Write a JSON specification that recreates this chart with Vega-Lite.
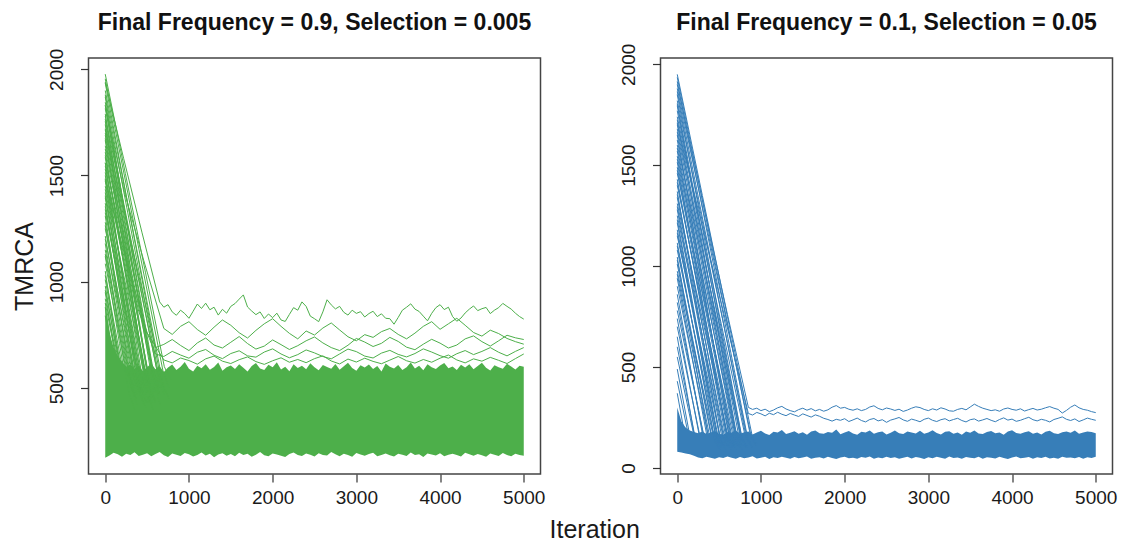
{
"$schema":"https://vega.github.io/schema/vega-lite/v6.json",
"background":"white",
"padding":{"left":11.5,"top":11,"right":5,"bottom":5},
"spacing":72,
"title":{"text":"Iteration","orient":"bottom","anchor":"middle","font":"Liberation Sans","fontSize":25,"fontWeight":"normal","color":"#1a1a1a","offset":10,"dx":30},
"config":{
 "view":{"stroke":"#444444","strokeWidth":1.5},
 "axis":{"domain":false,"grid":false,"tickSize":8,"tickColor":"#333333","tickWidth":1.2,"labelFont":"Liberation Sans","labelFontSize":19,"labelColor":"#1a1a1a","labelFlush":false,"labelOverlap":false,"titleFont":"Liberation Sans","titleFontSize":25,"titleFontWeight":"normal","titleColor":"#1a1a1a"},
 "axisX":{"labelPadding":6},
 "axisY":{"labelAngle":-90,"labelAlign":"center","labelBaseline":"bottom","labelPadding":14,"titlePadding":10}
},
"datasets":{
"bandL":[
{"x":0,"lo":172,"hi":900},{"x":50,"lo":182,"hi":760},{"x":100,"lo":195,"hi":690},{"x":150,"lo":188,"hi":650},{"x":200,"lo":176,"hi":625},{"x":250,"lo":190,"hi":600},{"x":300,"lo":184,"hi":612},{"x":350,"lo":197,"hi":590},{"x":400,"lo":180,"hi":605},{"x":450,"lo":186,"hi":580},
{"x":500,"lo":193,"hi":598},{"x":550,"lo":178,"hi":615},{"x":600,"lo":189,"hi":588},{"x":650,"lo":199,"hi":602},{"x":700,"lo":183,"hi":575},{"x":750,"lo":175,"hi":596},{"x":800,"lo":191,"hi":610},{"x":850,"lo":186,"hi":585},{"x":900,"lo":180,"hi":600},{"x":950,"lo":194,"hi":622},
{"x":1000,"lo":188,"hi":590},{"x":1050,"lo":177,"hi":578},{"x":1100,"lo":185,"hi":604},{"x":1150,"lo":196,"hi":593},{"x":1200,"lo":182,"hi":611},{"x":1250,"lo":190,"hi":586},{"x":1300,"lo":174,"hi":599},{"x":1350,"lo":187,"hi":620},{"x":1400,"lo":193,"hi":581},{"x":1450,"lo":181,"hi":597},
{"x":1500,"lo":189,"hi":606},{"x":1550,"lo":178,"hi":589},{"x":1600,"lo":195,"hi":612},{"x":1650,"lo":184,"hi":595},{"x":1700,"lo":190,"hi":578},{"x":1750,"lo":176,"hi":603},{"x":1800,"lo":186,"hi":617},{"x":1850,"lo":198,"hi":592},{"x":1900,"lo":183,"hi":584},{"x":1950,"lo":179,"hi":609},
{"x":2000,"lo":192,"hi":598},{"x":2050,"lo":187,"hi":621},{"x":2100,"lo":181,"hi":587},{"x":2150,"lo":175,"hi":600},{"x":2200,"lo":189,"hi":579},{"x":2250,"lo":196,"hi":611},{"x":2300,"lo":184,"hi":594},{"x":2350,"lo":180,"hi":605},{"x":2400,"lo":191,"hi":588},{"x":2450,"lo":186,"hi":616},
{"x":2500,"lo":177,"hi":597},{"x":2550,"lo":193,"hi":583},{"x":2600,"lo":185,"hi":608},{"x":2650,"lo":182,"hi":599},{"x":2700,"lo":198,"hi":590},{"x":2750,"lo":188,"hi":613},{"x":2800,"lo":179,"hi":586},{"x":2850,"lo":190,"hi":602},{"x":2900,"lo":184,"hi":619},{"x":2950,"lo":176,"hi":594},
{"x":3000,"lo":194,"hi":581},{"x":3050,"lo":187,"hi":607},{"x":3100,"lo":181,"hi":596},{"x":3150,"lo":189,"hi":610},{"x":3200,"lo":195,"hi":589},{"x":3250,"lo":178,"hi":603},{"x":3300,"lo":185,"hi":578},{"x":3350,"lo":192,"hi":615},{"x":3400,"lo":183,"hi":600},{"x":3450,"lo":177,"hi":592},
{"x":3500,"lo":190,"hi":608},{"x":3550,"lo":186,"hi":585},{"x":3600,"lo":180,"hi":597},{"x":3650,"lo":196,"hi":620},{"x":3700,"lo":184,"hi":591},{"x":3750,"lo":188,"hi":604},{"x":3800,"lo":175,"hi":583},{"x":3850,"lo":191,"hi":611},{"x":3900,"lo":187,"hi":598},{"x":3950,"lo":182,"hi":589},
{"x":4000,"lo":193,"hi":606},{"x":4050,"lo":179,"hi":617},{"x":4100,"lo":186,"hi":593},{"x":4150,"lo":190,"hi":601},{"x":4200,"lo":184,"hi":584},{"x":4250,"lo":177,"hi":609},{"x":4300,"lo":195,"hi":596},{"x":4350,"lo":188,"hi":612},{"x":4400,"lo":181,"hi":588},{"x":4450,"lo":189,"hi":603},
{"x":4500,"lo":183,"hi":619},{"x":4550,"lo":176,"hi":595},{"x":4600,"lo":192,"hi":582},{"x":4650,"lo":186,"hi":607},{"x":4700,"lo":180,"hi":598},{"x":4750,"lo":194,"hi":590},{"x":4800,"lo":185,"hi":614},{"x":4850,"lo":178,"hi":601},{"x":4900,"lo":190,"hi":587},{"x":4950,"lo":184,"hi":605},
{"x":5000,"lo":181,"hi":600}
],
"bandR":[
{"x":0,"lo":80,"hi":300},{"x":50,"lo":76,"hi":230},{"x":100,"lo":72,"hi":200},{"x":150,"lo":68,"hi":185},{"x":200,"lo":60,"hi":178},{"x":250,"lo":52,"hi":172},{"x":300,"lo":48,"hi":180},{"x":350,"lo":55,"hi":168},{"x":400,"lo":50,"hi":176},{"x":450,"lo":46,"hi":183},
{"x":500,"lo":53,"hi":170},{"x":550,"lo":49,"hi":165},{"x":600,"lo":57,"hi":178},{"x":650,"lo":51,"hi":174},{"x":700,"lo":45,"hi":186},{"x":750,"lo":54,"hi":169},{"x":800,"lo":48,"hi":177},{"x":850,"lo":52,"hi":181},{"x":900,"lo":58,"hi":166},{"x":950,"lo":47,"hi":175},
{"x":1000,"lo":50,"hi":184},{"x":1050,"lo":55,"hi":171},{"x":1100,"lo":44,"hi":163},{"x":1150,"lo":53,"hi":179},{"x":1200,"lo":49,"hi":176},{"x":1250,"lo":56,"hi":188},{"x":1300,"lo":51,"hi":168},{"x":1350,"lo":46,"hi":174},{"x":1400,"lo":54,"hi":182},{"x":1450,"lo":48,"hi":170},
{"x":1500,"lo":52,"hi":177},{"x":1550,"lo":57,"hi":165},{"x":1600,"lo":45,"hi":180},{"x":1650,"lo":50,"hi":185},{"x":1700,"lo":53,"hi":172},{"x":1750,"lo":47,"hi":169},{"x":1800,"lo":55,"hi":178},{"x":1850,"lo":49,"hi":174},{"x":1900,"lo":44,"hi":190},{"x":1950,"lo":52,"hi":167},
{"x":2000,"lo":56,"hi":176},{"x":2050,"lo":48,"hi":183},{"x":2100,"lo":51,"hi":171},{"x":2150,"lo":46,"hi":164},{"x":2200,"lo":54,"hi":179},{"x":2250,"lo":50,"hi":175},{"x":2300,"lo":57,"hi":186},{"x":2350,"lo":45,"hi":170},{"x":2400,"lo":52,"hi":177},{"x":2450,"lo":48,"hi":181},
{"x":2500,"lo":55,"hi":166},{"x":2550,"lo":49,"hi":174},{"x":2600,"lo":53,"hi":185},{"x":2650,"lo":46,"hi":172},{"x":2700,"lo":51,"hi":168},{"x":2750,"lo":56,"hi":180},{"x":2800,"lo":47,"hi":176},{"x":2850,"lo":54,"hi":171},{"x":2900,"lo":50,"hi":184},{"x":2950,"lo":44,"hi":169},
{"x":3000,"lo":53,"hi":175},{"x":3050,"lo":48,"hi":187},{"x":3100,"lo":55,"hi":173},{"x":3150,"lo":51,"hi":166},{"x":3200,"lo":46,"hi":179},{"x":3250,"lo":57,"hi":182},{"x":3300,"lo":49,"hi":170},{"x":3350,"lo":52,"hi":176},{"x":3400,"lo":45,"hi":164},{"x":3450,"lo":54,"hi":181},
{"x":3500,"lo":50,"hi":174},{"x":3550,"lo":48,"hi":186},{"x":3600,"lo":56,"hi":171},{"x":3650,"lo":46,"hi":168},{"x":3700,"lo":53,"hi":178},{"x":3750,"lo":51,"hi":183},{"x":3800,"lo":47,"hi":172},{"x":3850,"lo":55,"hi":175},{"x":3900,"lo":49,"hi":165},{"x":3950,"lo":44,"hi":180},
{"x":4000,"lo":52,"hi":187},{"x":4050,"lo":57,"hi":173},{"x":4100,"lo":48,"hi":169},{"x":4150,"lo":50,"hi":177},{"x":4200,"lo":54,"hi":182},{"x":4250,"lo":46,"hi":170},{"x":4300,"lo":53,"hi":176},{"x":4350,"lo":49,"hi":166},{"x":4400,"lo":55,"hi":179},{"x":4450,"lo":47,"hi":184},
{"x":4500,"lo":51,"hi":172},{"x":4550,"lo":45,"hi":168},{"x":4600,"lo":56,"hi":177},{"x":4650,"lo":50,"hi":181},{"x":4700,"lo":52,"hi":174},{"x":4750,"lo":48,"hi":186},{"x":4800,"lo":54,"hi":170},{"x":4850,"lo":46,"hi":175},{"x":4900,"lo":53,"hi":180},{"x":4950,"lo":49,"hi":178},
{"x":5000,"lo":55,"hi":172}
],
"linesL":[
{"s":"h1","x":0,"y":1940},{"s":"h1","x":220,"y":1580},{"s":"h1","x":440,"y":1230},{"s":"h1","x":650,"y":905},{"s":"h1","x":700,"y":880},{"s":"h1","x":750,"y":892},{"s":"h1","x":800,"y":858},{"s":"h1","x":850,"y":842},{"s":"h1","x":900,"y":866},{"s":"h1","x":950,"y":850},
{"s":"h1","x":1000,"y":828},{"s":"h1","x":1050,"y":861},{"s":"h1","x":1100,"y":895},{"s":"h1","x":1150,"y":874},{"s":"h1","x":1200,"y":899},{"s":"h1","x":1250,"y":868},{"s":"h1","x":1300,"y":880},{"s":"h1","x":1350,"y":843},{"s":"h1","x":1400,"y":870},{"s":"h1","x":1450,"y":852},
{"s":"h1","x":1500,"y":884},{"s":"h1","x":1550,"y":897},{"s":"h1","x":1600,"y":918},{"s":"h1","x":1650,"y":938},{"s":"h1","x":1700,"y":881},{"s":"h1","x":1750,"y":862},{"s":"h1","x":1800,"y":845},{"s":"h1","x":1850,"y":858},{"s":"h1","x":1900,"y":827},{"s":"h1","x":1950,"y":848},
{"s":"h1","x":2000,"y":831},{"s":"h1","x":2050,"y":852},{"s":"h1","x":2100,"y":820},{"s":"h1","x":2150,"y":813},{"s":"h1","x":2200,"y":846},{"s":"h1","x":2250,"y":878},{"s":"h1","x":2300,"y":866},{"s":"h1","x":2350,"y":905},{"s":"h1","x":2400,"y":884},{"s":"h1","x":2450,"y":838},
{"s":"h1","x":2500,"y":826},{"s":"h1","x":2550,"y":812},{"s":"h1","x":2600,"y":858},{"s":"h1","x":2650,"y":915},{"s":"h1","x":2700,"y":891},{"s":"h1","x":2750,"y":872},{"s":"h1","x":2800,"y":884},{"s":"h1","x":2850,"y":856},{"s":"h1","x":2900,"y":843},{"s":"h1","x":2950,"y":866},
{"s":"h1","x":3000,"y":851},{"s":"h1","x":3050,"y":859},{"s":"h1","x":3100,"y":834},{"s":"h1","x":3150,"y":850},{"s":"h1","x":3200,"y":861},{"s":"h1","x":3250,"y":836},{"s":"h1","x":3300,"y":849},{"s":"h1","x":3350,"y":828},{"s":"h1","x":3400,"y":826},{"s":"h1","x":3450,"y":800},
{"s":"h1","x":3500,"y":832},{"s":"h1","x":3550,"y":866},{"s":"h1","x":3600,"y":880},{"s":"h1","x":3650,"y":896},{"s":"h1","x":3700,"y":871},{"s":"h1","x":3750,"y":860},{"s":"h1","x":3800,"y":838},{"s":"h1","x":3850,"y":816},{"s":"h1","x":3900,"y":851},{"s":"h1","x":3950,"y":878},
{"s":"h1","x":4000,"y":892},{"s":"h1","x":4050,"y":869},{"s":"h1","x":4100,"y":880},{"s":"h1","x":4150,"y":836},{"s":"h1","x":4200,"y":814},{"s":"h1","x":4250,"y":829},{"s":"h1","x":4300,"y":853},{"s":"h1","x":4350,"y":871},{"s":"h1","x":4400,"y":886},{"s":"h1","x":4450,"y":864},
{"s":"h1","x":4500,"y":873},{"s":"h1","x":4550,"y":879},{"s":"h1","x":4600,"y":850},{"s":"h1","x":4650,"y":866},{"s":"h1","x":4700,"y":878},{"s":"h1","x":4750,"y":898},{"s":"h1","x":4800,"y":884},{"s":"h1","x":4850,"y":871},{"s":"h1","x":4900,"y":852},{"s":"h1","x":4950,"y":836},{"s":"h1","x":5000,"y":824},
{"s":"h2","x":0,"y":1830},{"s":"h2","x":230,"y":1420},{"s":"h2","x":460,"y":1100},{"s":"h2","x":700,"y":780},{"s":"h2","x":800,"y":752},{"s":"h2","x":900,"y":790},{"s":"h2","x":1000,"y":812},{"s":"h2","x":1100,"y":775},{"s":"h2","x":1200,"y":748},{"s":"h2","x":1300,"y":786},
{"s":"h2","x":1400,"y":820},{"s":"h2","x":1500,"y":795},{"s":"h2","x":1600,"y":760},{"s":"h2","x":1700,"y":735},{"s":"h2","x":1800,"y":771},{"s":"h2","x":1900,"y":802},{"s":"h2","x":2000,"y":826},{"s":"h2","x":2100,"y":790},{"s":"h2","x":2200,"y":757},{"s":"h2","x":2300,"y":731},
{"s":"h2","x":2400,"y":768},{"s":"h2","x":2500,"y":749},{"s":"h2","x":2600,"y":782},{"s":"h2","x":2700,"y":806},{"s":"h2","x":2800,"y":773},{"s":"h2","x":2900,"y":741},{"s":"h2","x":3000,"y":722},{"s":"h2","x":3100,"y":751},{"s":"h2","x":3200,"y":738},{"s":"h2","x":3300,"y":765},
{"s":"h2","x":3400,"y":780},{"s":"h2","x":3500,"y":752},{"s":"h2","x":3600,"y":731},{"s":"h2","x":3700,"y":758},{"s":"h2","x":3800,"y":790},{"s":"h2","x":3900,"y":812},{"s":"h2","x":4000,"y":776},{"s":"h2","x":4100,"y":802},{"s":"h2","x":4200,"y":828},{"s":"h2","x":4300,"y":795},
{"s":"h2","x":4400,"y":761},{"s":"h2","x":4500,"y":744},{"s":"h2","x":4600,"y":772},{"s":"h2","x":4700,"y":756},{"s":"h2","x":4800,"y":733},{"s":"h2","x":4900,"y":718},{"s":"h2","x":5000,"y":706},
{"s":"h3","x":0,"y":1720},{"s":"h3","x":200,"y":1370},{"s":"h3","x":400,"y":1030},{"s":"h3","x":600,"y":690},{"s":"h3","x":700,"y":705},{"s":"h3","x":800,"y":728},{"s":"h3","x":900,"y":700},{"s":"h3","x":1000,"y":676},{"s":"h3","x":1100,"y":712},{"s":"h3","x":1200,"y":735},
{"s":"h3","x":1300,"y":702},{"s":"h3","x":1400,"y":688},{"s":"h3","x":1500,"y":715},{"s":"h3","x":1600,"y":742},{"s":"h3","x":1700,"y":709},{"s":"h3","x":1800,"y":683},{"s":"h3","x":1900,"y":697},{"s":"h3","x":2000,"y":726},{"s":"h3","x":2100,"y":704},{"s":"h3","x":2200,"y":681},
{"s":"h3","x":2300,"y":699},{"s":"h3","x":2400,"y":722},{"s":"h3","x":2500,"y":740},{"s":"h3","x":2600,"y":712},{"s":"h3","x":2700,"y":690},{"s":"h3","x":2800,"y":676},{"s":"h3","x":2900,"y":701},{"s":"h3","x":3000,"y":733},{"s":"h3","x":3100,"y":716},{"s":"h3","x":3200,"y":695},
{"s":"h3","x":3300,"y":710},{"s":"h3","x":3400,"y":738},{"s":"h3","x":3500,"y":719},{"s":"h3","x":3600,"y":692},{"s":"h3","x":3700,"y":680},{"s":"h3","x":3800,"y":706},{"s":"h3","x":3900,"y":729},{"s":"h3","x":4000,"y":711},{"s":"h3","x":4100,"y":688},{"s":"h3","x":4200,"y":702},
{"s":"h3","x":4300,"y":731},{"s":"h3","x":4400,"y":745},{"s":"h3","x":4500,"y":718},{"s":"h3","x":4600,"y":697},{"s":"h3","x":4700,"y":722},{"s":"h3","x":4800,"y":748},{"s":"h3","x":4900,"y":736},{"s":"h3","x":5000,"y":728},
{"s":"h4","x":0,"y":1560},{"s":"h4","x":200,"y":1210},{"s":"h4","x":400,"y":860},{"s":"h4","x":600,"y":660},{"s":"h4","x":700,"y":648},{"s":"h4","x":800,"y":672},{"s":"h4","x":900,"y":655},{"s":"h4","x":1000,"y":640},{"s":"h4","x":1100,"y":668},{"s":"h4","x":1200,"y":681},
{"s":"h4","x":1300,"y":654},{"s":"h4","x":1400,"y":638},{"s":"h4","x":1500,"y":662},{"s":"h4","x":1600,"y":675},{"s":"h4","x":1700,"y":651},{"s":"h4","x":1800,"y":645},{"s":"h4","x":1900,"y":669},{"s":"h4","x":2000,"y":684},{"s":"h4","x":2100,"y":660},{"s":"h4","x":2200,"y":642},
{"s":"h4","x":2300,"y":657},{"s":"h4","x":2400,"y":679},{"s":"h4","x":2500,"y":665},{"s":"h4","x":2600,"y":648},{"s":"h4","x":2700,"y":637},{"s":"h4","x":2800,"y":660},{"s":"h4","x":2900,"y":683},{"s":"h4","x":3000,"y":671},{"s":"h4","x":3100,"y":650},{"s":"h4","x":3200,"y":641},
{"s":"h4","x":3300,"y":664},{"s":"h4","x":3400,"y":677},{"s":"h4","x":3500,"y":658},{"s":"h4","x":3600,"y":646},{"s":"h4","x":3700,"y":662},{"s":"h4","x":3800,"y":684},{"s":"h4","x":3900,"y":669},{"s":"h4","x":4000,"y":652},{"s":"h4","x":4100,"y":640},{"s":"h4","x":4200,"y":661},
{"s":"h4","x":4300,"y":676},{"s":"h4","x":4400,"y":657},{"s":"h4","x":4500,"y":672},{"s":"h4","x":4600,"y":690},{"s":"h4","x":4700,"y":668},{"s":"h4","x":4800,"y":651},{"s":"h4","x":4900,"y":672},{"s":"h4","x":5000,"y":690},
{"s":"h5","x":0,"y":1480},{"s":"h5","x":250,"y":1100},{"s":"h5","x":500,"y":760},{"s":"h5","x":700,"y":632},{"s":"h5","x":800,"y":618},{"s":"h5","x":900,"y":641},{"s":"h5","x":1000,"y":629},{"s":"h5","x":1100,"y":612},{"s":"h5","x":1200,"y":637},{"s":"h5","x":1300,"y":650},
{"s":"h5","x":1400,"y":626},{"s":"h5","x":1500,"y":615},{"s":"h5","x":1600,"y":633},{"s":"h5","x":1700,"y":646},{"s":"h5","x":1800,"y":624},{"s":"h5","x":1900,"y":611},{"s":"h5","x":2000,"y":628},{"s":"h5","x":2100,"y":642},{"s":"h5","x":2200,"y":621},{"s":"h5","x":2300,"y":634},
{"s":"h5","x":2400,"y":619},{"s":"h5","x":2500,"y":638},{"s":"h5","x":2600,"y":651},{"s":"h5","x":2700,"y":627},{"s":"h5","x":2800,"y":613},{"s":"h5","x":2900,"y":636},{"s":"h5","x":3000,"y":622},{"s":"h5","x":3100,"y":640},{"s":"h5","x":3200,"y":625},{"s":"h5","x":3300,"y":614},
{"s":"h5","x":3400,"y":631},{"s":"h5","x":3500,"y":648},{"s":"h5","x":3600,"y":628},{"s":"h5","x":3700,"y":617},{"s":"h5","x":3800,"y":634},{"s":"h5","x":3900,"y":621},{"s":"h5","x":4000,"y":640},{"s":"h5","x":4100,"y":655},{"s":"h5","x":4200,"y":632},{"s":"h5","x":4300,"y":618},
{"s":"h5","x":4400,"y":637},{"s":"h5","x":4500,"y":626},{"s":"h5","x":4600,"y":644},{"s":"h5","x":4700,"y":630},{"s":"h5","x":4800,"y":615},{"s":"h5","x":4900,"y":638},{"s":"h5","x":5000,"y":660},
{"s":"f1","x":0,"y":1977},{"s":"f1","x":240,"y":1510},{"s":"f1","x":480,"y":1045},{"s":"f1","x":706,"y":600},{"s":"f1","x":780,"y":540},
{"s":"f2","x":0,"y":1935},{"s":"f2","x":220,"y":1470},{"s":"f2","x":440,"y":1010},{"s":"f2","x":655,"y":560},{"s":"f2","x":720,"y":480},
{"s":"f3","x":0,"y":1900},{"s":"f3","x":230,"y":1445},{"s":"f3","x":460,"y":985},{"s":"f3","x":690,"y":520},{"s":"f3","x":760,"y":450},
{"s":"f4","x":0,"y":1870},{"s":"f4","x":200,"y":1405},{"s":"f4","x":400,"y":950},{"s":"f4","x":596,"y":500},{"s":"f4","x":660,"y":420},
{"s":"f5","x":0,"y":1845},{"s":"f5","x":190,"y":1425},{"s":"f5","x":380,"y":1010},{"s":"f5","x":575,"y":580},{"s":"f5","x":650,"y":500},
{"s":"f6","x":0,"y":1815},{"s":"f6","x":210,"y":1390},{"s":"f6","x":420,"y":975},{"s":"f6","x":638,"y":540},{"s":"f6","x":700,"y":470},
{"s":"f7","x":0,"y":1790},{"s":"f7","x":180,"y":1360},{"s":"f7","x":360,"y":925},{"s":"f7","x":537,"y":500},{"s":"f7","x":600,"y":430},
{"s":"f8","x":0,"y":1765},{"s":"f8","x":190,"y":1365},{"s":"f8","x":380,"y":965},{"s":"f8","x":574,"y":560},{"s":"f8","x":640,"y":480},
{"s":"f9","x":0,"y":1740},{"s":"f9","x":170,"y":1315},{"s":"f9","x":340,"y":890},{"s":"f9","x":504,"y":480},{"s":"f9","x":570,"y":400},
{"s":"f10","x":0,"y":1715},{"s":"f10","x":185,"y":1345},{"s":"f10","x":370,"y":975},{"s":"f10","x":558,"y":600},{"s":"f10","x":630,"y":520},
{"s":"f11","x":0,"y":1690},{"s":"f11","x":175,"y":1305},{"s":"f11","x":355,"y":915},{"s":"f11","x":532,"y":520},{"s":"f11","x":600,"y":440},
{"s":"f12","x":0,"y":1665},{"s":"f12","x":160,"y":1300},{"s":"f12","x":320,"y":930},{"s":"f12","x":480,"y":560},{"s":"f12","x":550,"y":480},
{"s":"f13","x":0,"y":1640},{"s":"f13","x":190,"y":1280},{"s":"f13","x":385,"y":910},{"s":"f13","x":579,"y":540},{"s":"f13","x":650,"y":470},
{"s":"f14","x":0,"y":1610},{"s":"f14","x":155,"y":1240},{"s":"f14","x":310,"y":865},{"s":"f14","x":462,"y":500},{"s":"f14","x":530,"y":430},
{"s":"f15","x":0,"y":1585},{"s":"f15","x":160,"y":1250},{"s":"f15","x":320,"y":915},{"s":"f15","x":478,"y":580},{"s":"f15","x":550,"y":500},
{"s":"f16","x":0,"y":1560},{"s":"f16","x":140,"y":1195},{"s":"f16","x":280,"y":830},{"s":"f16","x":415,"y":480},{"s":"f16","x":480,"y":410},
{"s":"f17","x":0,"y":1530},{"s":"f17","x":170,"y":1190},{"s":"f17","x":340,"y":850},{"s":"f17","x":505,"y":520},{"s":"f17","x":570,"y":450},
{"s":"f18","x":0,"y":1500},{"s":"f18","x":140,"y":1190},{"s":"f18","x":285,"y":875},{"s":"f18","x":427,"y":560},{"s":"f18","x":500,"y":480},
{"s":"f19","x":0,"y":1475},{"s":"f19","x":130,"y":1150},{"s":"f19","x":260,"y":825},{"s":"f19","x":390,"y":500},{"s":"f19","x":460,"y":420},
{"s":"f20","x":0,"y":1450},{"s":"f20","x":150,"y":1165},{"s":"f20","x":300,"y":880},{"s":"f20","x":447,"y":600},{"s":"f20","x":520,"y":520},
{"s":"f21","x":0,"y":1420},{"s":"f21","x":130,"y":1120},{"s":"f21","x":255,"y":835},{"s":"f21","x":383,"y":540},{"s":"f21","x":450,"y":470},
{"s":"f22","x":0,"y":1395},{"s":"f22","x":140,"y":1100},{"s":"f22","x":285,"y":795},{"s":"f22","x":426,"y":500},{"s":"f22","x":490,"y":430},
{"s":"f23","x":0,"y":1370},{"s":"f23","x":110,"y":1105},{"s":"f23","x":220,"y":840},{"s":"f23","x":329,"y":580},{"s":"f23","x":400,"y":500},
{"s":"f24","x":0,"y":1340},{"s":"f24","x":135,"y":1070},{"s":"f24","x":265,"y":810},{"s":"f24","x":400,"y":540},{"s":"f24","x":470,"y":470},
{"s":"f25","x":0,"y":1310},{"s":"f25","x":105,"y":1040},{"s":"f25","x":210,"y":765},{"s":"f25","x":312,"y":500},{"s":"f25","x":380,"y":420},
{"s":"f26","x":0,"y":1280},{"s":"f26","x":110,"y":1040},{"s":"f26","x":220,"y":795},{"s":"f26","x":327,"y":560},{"s":"f26","x":400,"y":480},
{"s":"f27","x":0,"y":1250},{"s":"f27","x":110,"y":1030},{"s":"f27","x":215,"y":820},{"s":"f27","x":325,"y":600},{"s":"f27","x":400,"y":520},
{"s":"f28","x":0,"y":1215},{"s":"f28","x":100,"y":985},{"s":"f28","x":200,"y":755},{"s":"f28","x":302,"y":520},{"s":"f28","x":370,"y":450},
{"s":"f29","x":0,"y":1180},{"s":"f29","x":95,"y":945},{"s":"f29","x":185,"y":715},{"s":"f29","x":280,"y":480},{"s":"f29","x":350,"y":400},
{"s":"f30","x":0,"y":1150},{"s":"f30","x":95,"y":950},{"s":"f30","x":190,"y":750},{"s":"f30","x":281,"y":560},{"s":"f30","x":350,"y":480},
{"s":"f31","x":0,"y":1120},{"s":"f31","x":85,"y":915},{"s":"f31","x":170,"y":710},{"s":"f31","x":258,"y":500},{"s":"f31","x":320,"y":430},
{"s":"f32","x":0,"y":1085},{"s":"f32","x":90,"y":905},{"s":"f32","x":180,"y":725},{"s":"f32","x":272,"y":540},{"s":"f32","x":340,"y":470},
{"s":"f33","x":0,"y":1050},{"s":"f33","x":70,"y":870},{"s":"f33","x":135,"y":700},{"s":"f33","x":204,"y":520},{"s":"f33","x":270,"y":440},
{"s":"f34","x":0,"y":1010},{"s":"f34","x":65,"y":865},{"s":"f34","x":130,"y":725},{"s":"f34","x":195,"y":580},{"s":"f34","x":260,"y":500},
{"s":"f35","x":0,"y":980},{"s":"f35","x":70,"y":820},{"s":"f35","x":140,"y":660},{"s":"f35","x":209,"y":500},{"s":"f35","x":280,"y":420},
{"s":"f36","x":0,"y":950},{"s":"f36","x":80,"y":750},{"s":"f36","x":156,"y":560},{"s":"f36","x":220,"y":480},
{"s":"f37","x":0,"y":920},{"s":"f37","x":100,"y":720},{"s":"f37","x":200,"y":520},{"s":"f37","x":270,"y":450},
{"s":"f38","x":0,"y":880},{"s":"f38","x":70,"y":710},{"s":"f38","x":142,"y":540},{"s":"f38","x":210,"y":470},
{"s":"f39","x":0,"y":840},{"s":"f39","x":55,"y":720},{"s":"f39","x":109,"y":600},{"s":"f39","x":180,"y":520},
{"s":"g41","x":0,"y":1955},{"s":"g41","x":690,"y":580},{"s":"g41","x":760,"y":500},
{"s":"g42","x":0,"y":1880},{"s":"g42","x":640,"y":560},{"s":"g42","x":700,"y":490},
{"s":"g43","x":0,"y":1830},{"s":"g43","x":560,"y":540},{"s":"g43","x":630,"y":470},
{"s":"g44","x":0,"y":1780},{"s":"g44","x":610,"y":600},{"s":"g44","x":680,"y":520},
{"s":"g45","x":0,"y":1755},{"s":"g45","x":520,"y":520},{"s":"g45","x":590,"y":440},
{"s":"g46","x":0,"y":1700},{"s":"g46","x":570,"y":580},{"s":"g46","x":640,"y":500},
{"s":"g47","x":0,"y":1675},{"s":"g47","x":500,"y":500},{"s":"g47","x":570,"y":430},
{"s":"g48","x":0,"y":1625},{"s":"g48","x":520,"y":560},{"s":"g48","x":590,"y":480},
{"s":"g49","x":0,"y":1595},{"s":"g49","x":470,"y":540},{"s":"g49","x":540,"y":470},
{"s":"g50","x":0,"y":1545},{"s":"g50","x":460,"y":600},{"s":"g50","x":530,"y":520},
{"s":"g51","x":0,"y":1515},{"s":"g51","x":430,"y":500},{"s":"g51","x":500,"y":430},
{"s":"g52","x":0,"y":1485},{"s":"g52","x":420,"y":560},{"s":"g52","x":490,"y":480},
{"s":"g53","x":0,"y":1435},{"s":"g53","x":400,"y":580},{"s":"g53","x":470,"y":500},
{"s":"g54","x":0,"y":1405},{"s":"g54","x":370,"y":520},{"s":"g54","x":440,"y":450},
{"s":"g55","x":0,"y":1355},{"s":"g55","x":350,"y":560},{"s":"g55","x":420,"y":480},
{"s":"g56","x":0,"y":1325},{"s":"g56","x":370,"y":600},{"s":"g56","x":440,"y":520},
{"s":"g57","x":0,"y":1265},{"s":"g57","x":310,"y":540},{"s":"g57","x":380,"y":470},
{"s":"g58","x":0,"y":1200},{"s":"g58","x":300,"y":600},{"s":"g58","x":370,"y":520},
{"s":"g59","x":0,"y":1130},{"s":"g59","x":270,"y":560},{"s":"g59","x":340,"y":480},
{"s":"g60","x":0,"y":1030},{"s":"g60","x":230,"y":540},{"s":"g60","x":300,"y":470},
{"s":"g61","x":0,"y":960},{"s":"g61","x":190,"y":580},{"s":"g61","x":260,"y":500},
{"s":"g62","x":0,"y":900},{"s":"g62","x":170,"y":560},{"s":"g62","x":240,"y":480}
],
"linesR":[
{"s":"r1","x":0,"y":1900},{"s":"r1","x":300,"y":1330},{"s":"r1","x":600,"y":760},{"s":"r1","x":850,"y":300},{"s":"r1","x":900,"y":290},{"s":"r1","x":950,"y":296},{"s":"r1","x":1000,"y":284},{"s":"r1","x":1050,"y":291},{"s":"r1","x":1100,"y":279},{"s":"r1","x":1150,"y":287},
{"s":"r1","x":1200,"y":298},{"s":"r1","x":1250,"y":305},{"s":"r1","x":1300,"y":292},{"s":"r1","x":1350,"y":284},{"s":"r1","x":1400,"y":278},{"s":"r1","x":1450,"y":289},{"s":"r1","x":1500,"y":296},{"s":"r1","x":1550,"y":286},{"s":"r1","x":1600,"y":294},{"s":"r1","x":1650,"y":283},
{"s":"r1","x":1700,"y":290},{"s":"r1","x":1750,"y":281},{"s":"r1","x":1800,"y":288},{"s":"r1","x":1850,"y":301},{"s":"r1","x":1900,"y":309},{"s":"r1","x":1950,"y":296},{"s":"r1","x":2000,"y":300},{"s":"r1","x":2050,"y":291},{"s":"r1","x":2100,"y":286},{"s":"r1","x":2150,"y":293},
{"s":"r1","x":2200,"y":284},{"s":"r1","x":2250,"y":290},{"s":"r1","x":2300,"y":302},{"s":"r1","x":2350,"y":308},{"s":"r1","x":2400,"y":295},{"s":"r1","x":2450,"y":288},{"s":"r1","x":2500,"y":297},{"s":"r1","x":2550,"y":292},{"s":"r1","x":2600,"y":285},{"s":"r1","x":2650,"y":291},
{"s":"r1","x":2700,"y":280},{"s":"r1","x":2750,"y":287},{"s":"r1","x":2800,"y":296},{"s":"r1","x":2850,"y":303},{"s":"r1","x":2900,"y":299},{"s":"r1","x":2950,"y":290},{"s":"r1","x":3000,"y":284},{"s":"r1","x":3050,"y":293},{"s":"r1","x":3100,"y":287},{"s":"r1","x":3150,"y":298},
{"s":"r1","x":3200,"y":292},{"s":"r1","x":3250,"y":283},{"s":"r1","x":3300,"y":281},{"s":"r1","x":3350,"y":290},{"s":"r1","x":3400,"y":295},{"s":"r1","x":3450,"y":288},{"s":"r1","x":3500,"y":302},{"s":"r1","x":3550,"y":316},{"s":"r1","x":3600,"y":305},{"s":"r1","x":3650,"y":296},
{"s":"r1","x":3700,"y":290},{"s":"r1","x":3750,"y":284},{"s":"r1","x":3800,"y":288},{"s":"r1","x":3850,"y":281},{"s":"r1","x":3900,"y":292},{"s":"r1","x":3950,"y":297},{"s":"r1","x":4000,"y":290},{"s":"r1","x":4050,"y":286},{"s":"r1","x":4100,"y":293},{"s":"r1","x":4150,"y":282},
{"s":"r1","x":4200,"y":289},{"s":"r1","x":4250,"y":295},{"s":"r1","x":4300,"y":287},{"s":"r1","x":4350,"y":291},{"s":"r1","x":4400,"y":298},{"s":"r1","x":4450,"y":304},{"s":"r1","x":4500,"y":296},{"s":"r1","x":4550,"y":290},{"s":"r1","x":4600,"y":272},{"s":"r1","x":4650,"y":285},
{"s":"r1","x":4700,"y":301},{"s":"r1","x":4750,"y":312},{"s":"r1","x":4800,"y":298},{"s":"r1","x":4850,"y":290},{"s":"r1","x":4900,"y":286},{"s":"r1","x":4950,"y":279},{"s":"r1","x":5000,"y":274},
{"s":"r2","x":0,"y":1700},{"s":"r2","x":280,"y":1230},{"s":"r2","x":560,"y":760},{"s":"r2","x":850,"y":270},{"s":"r2","x":900,"y":262},{"s":"r2","x":950,"y":275},{"s":"r2","x":1000,"y":268},{"s":"r2","x":1050,"y":258},{"s":"r2","x":1100,"y":271},{"s":"r2","x":1150,"y":264},
{"s":"r2","x":1200,"y":276},{"s":"r2","x":1250,"y":266},{"s":"r2","x":1300,"y":259},{"s":"r2","x":1350,"y":270},{"s":"r2","x":1400,"y":262},{"s":"r2","x":1450,"y":255},{"s":"r2","x":1500,"y":268},{"s":"r2","x":1550,"y":260},{"s":"r2","x":1600,"y":252},{"s":"r2","x":1650,"y":263},
{"s":"r2","x":1700,"y":256},{"s":"r2","x":1750,"y":246},{"s":"r2","x":1800,"y":240},{"s":"r2","x":1850,"y":232},{"s":"r2","x":1900,"y":241},{"s":"r2","x":1950,"y":236},{"s":"r2","x":2000,"y":244},{"s":"r2","x":2050,"y":230},{"s":"r2","x":2100,"y":238},{"s":"r2","x":2150,"y":247},
{"s":"r2","x":2200,"y":235},{"s":"r2","x":2250,"y":228},{"s":"r2","x":2300,"y":240},{"s":"r2","x":2350,"y":245},{"s":"r2","x":2400,"y":233},{"s":"r2","x":2450,"y":239},{"s":"r2","x":2500,"y":226},{"s":"r2","x":2550,"y":237},{"s":"r2","x":2600,"y":243},{"s":"r2","x":2650,"y":250},
{"s":"r2","x":2700,"y":238},{"s":"r2","x":2750,"y":231},{"s":"r2","x":2800,"y":242},{"s":"r2","x":2850,"y":236},{"s":"r2","x":2900,"y":229},{"s":"r2","x":2950,"y":241},{"s":"r2","x":3000,"y":247},{"s":"r2","x":3050,"y":236},{"s":"r2","x":3100,"y":230},{"s":"r2","x":3150,"y":239},
{"s":"r2","x":3200,"y":244},{"s":"r2","x":3250,"y":233},{"s":"r2","x":3300,"y":240},{"s":"r2","x":3350,"y":246},{"s":"r2","x":3400,"y":235},{"s":"r2","x":3450,"y":228},{"s":"r2","x":3500,"y":239},{"s":"r2","x":3550,"y":243},{"s":"r2","x":3600,"y":232},{"s":"r2","x":3650,"y":238},
{"s":"r2","x":3700,"y":245},{"s":"r2","x":3750,"y":236},{"s":"r2","x":3800,"y":229},{"s":"r2","x":3850,"y":240},{"s":"r2","x":3900,"y":248},{"s":"r2","x":3950,"y":237},{"s":"r2","x":4000,"y":242},{"s":"r2","x":4050,"y":231},{"s":"r2","x":4100,"y":236},{"s":"r2","x":4150,"y":244},
{"s":"r2","x":4200,"y":251},{"s":"r2","x":4250,"y":239},{"s":"r2","x":4300,"y":233},{"s":"r2","x":4350,"y":241},{"s":"r2","x":4400,"y":236},{"s":"r2","x":4450,"y":228},{"s":"r2","x":4500,"y":240},{"s":"r2","x":4550,"y":246},{"s":"r2","x":4600,"y":253},{"s":"r2","x":4650,"y":241},
{"s":"r2","x":4700,"y":235},{"s":"r2","x":4750,"y":243},{"s":"r2","x":4800,"y":230},{"s":"r2","x":4850,"y":238},{"s":"r2","x":4900,"y":247},{"s":"r2","x":4950,"y":241},{"s":"r2","x":5000,"y":236},
{"s":"b1","x":0,"y":1950},{"s":"b1","x":300,"y":1350},{"s":"b1","x":600,"y":750},{"s":"b1","x":895,"y":160},{"s":"b1","x":950,"y":120},
{"s":"b2","x":0,"y":1915},{"s":"b2","x":280,"y":1330},{"s":"b2","x":560,"y":740},{"s":"b2","x":845,"y":140},{"s":"b2","x":900,"y":100},
{"s":"b3","x":0,"y":1880},{"s":"b3","x":290,"y":1315},{"s":"b3","x":585,"y":740},{"s":"b3","x":877,"y":170},{"s":"b3","x":930,"y":120},
{"s":"b4","x":0,"y":1850},{"s":"b4","x":260,"y":1280},{"s":"b4","x":515,"y":715},{"s":"b4","x":773,"y":150},{"s":"b4","x":830,"y":110},
{"s":"b5","x":0,"y":1820},{"s":"b5","x":280,"y":1260},{"s":"b5","x":565,"y":690},{"s":"b5","x":845,"y":130},{"s":"b5","x":900,"y":100},
{"s":"b6","x":0,"y":1795},{"s":"b6","x":235,"y":1255},{"s":"b6","x":475,"y":705},{"s":"b6","x":711,"y":160},{"s":"b6","x":770,"y":110},
{"s":"b7","x":0,"y":1770},{"s":"b7","x":255,"y":1235},{"s":"b7","x":515,"y":690},{"s":"b7","x":771,"y":150},{"s":"b7","x":830,"y":100},
{"s":"b8","x":0,"y":1740},{"s":"b8","x":270,"y":1215},{"s":"b8","x":535,"y":695},{"s":"b8","x":805,"y":170},{"s":"b8","x":860,"y":120},
{"s":"b9","x":0,"y":1710},{"s":"b9","x":240,"y":1180},{"s":"b9","x":480,"y":655},{"s":"b9","x":718,"y":130},{"s":"b9","x":780,"y":90},
{"s":"b10","x":0,"y":1680},{"s":"b10","x":255,"y":1170},{"s":"b10","x":505,"y":670},{"s":"b10","x":760,"y":160},{"s":"b10","x":820,"y":110},
{"s":"b11","x":0,"y":1650},{"s":"b11","x":210,"y":1145},{"s":"b11","x":420,"y":645},{"s":"b11","x":629,"y":140},{"s":"b11","x":690,"y":100},
{"s":"b12","x":0,"y":1625},{"s":"b12","x":230,"y":1140},{"s":"b12","x":460,"y":660},{"s":"b12","x":693,"y":170},{"s":"b12","x":750,"y":120},
{"s":"b13","x":0,"y":1600},{"s":"b13","x":255,"y":1115},{"s":"b13","x":510,"y":630},{"s":"b13","x":763,"y":150},{"s":"b13","x":820,"y":110},
{"s":"b14","x":0,"y":1570},{"s":"b14","x":220,"y":1085},{"s":"b14","x":435,"y":610},{"s":"b14","x":655,"y":130},{"s":"b14","x":710,"y":90},
{"s":"b15","x":0,"y":1545},{"s":"b15","x":230,"y":1085},{"s":"b15","x":460,"y":625},{"s":"b15","x":693,"y":160},{"s":"b15","x":750,"y":110},
{"s":"b16","x":0,"y":1515},{"s":"b16","x":200,"y":1055},{"s":"b16","x":400,"y":595},{"s":"b16","x":598,"y":140},{"s":"b16","x":660,"y":100},
{"s":"b17","x":0,"y":1490},{"s":"b17","x":210,"y":1050},{"s":"b17","x":420,"y":610},{"s":"b17","x":629,"y":170},{"s":"b17","x":690,"y":120},
{"s":"b18","x":0,"y":1460},{"s":"b18","x":225,"y":1020},{"s":"b18","x":450,"y":580},{"s":"b18","x":672,"y":150},{"s":"b18","x":730,"y":110},
{"s":"b19","x":0,"y":1430},{"s":"b19","x":195,"y":1000},{"s":"b19","x":395,"y":560},{"s":"b19","x":591,"y":130},{"s":"b19","x":650,"y":90},
{"s":"b20","x":0,"y":1400},{"s":"b20","x":205,"y":990},{"s":"b20","x":415,"y":570},{"s":"b20","x":620,"y":160},{"s":"b20","x":680,"y":110},
{"s":"b21","x":0,"y":1370},{"s":"b21","x":170,"y":960},{"s":"b21","x":340,"y":555},{"s":"b21","x":512,"y":140},{"s":"b21","x":570,"y":100},
{"s":"b22","x":0,"y":1340},{"s":"b22","x":185,"y":950},{"s":"b22","x":370,"y":560},{"s":"b22","x":557,"y":170},{"s":"b22","x":620,"y":120},
{"s":"b23","x":0,"y":1310},{"s":"b23","x":205,"y":920},{"s":"b23","x":405,"y":540},{"s":"b23","x":610,"y":150},{"s":"b23","x":670,"y":110},
{"s":"b24","x":0,"y":1280},{"s":"b24","x":175,"y":895},{"s":"b24","x":350,"y":510},{"s":"b24","x":523,"y":130},{"s":"b24","x":580,"y":90},
{"s":"b25","x":0,"y":1250},{"s":"b25","x":180,"y":890},{"s":"b25","x":365,"y":520},{"s":"b25","x":545,"y":160},{"s":"b25","x":600,"y":110},
{"s":"b26","x":0,"y":1215},{"s":"b26","x":155,"y":860},{"s":"b26","x":310,"y":500},{"s":"b26","x":467,"y":140},{"s":"b26","x":530,"y":100},
{"s":"b27","x":0,"y":1180},{"s":"b27","x":160,"y":845},{"s":"b27","x":320,"y":510},{"s":"b27","x":481,"y":170},{"s":"b27","x":540,"y":120},
{"s":"b28","x":0,"y":1150},{"s":"b28","x":170,"y":820},{"s":"b28","x":340,"y":490},{"s":"b28","x":513,"y":150},{"s":"b28","x":570,"y":110},
{"s":"b29","x":0,"y":1115},{"s":"b29","x":150,"y":785},{"s":"b29","x":300,"y":455},{"s":"b29","x":448,"y":130},{"s":"b29","x":510,"y":90},
{"s":"b30","x":0,"y":1080},{"s":"b30","x":155,"y":770},{"s":"b30","x":305,"y":470},{"s":"b30","x":460,"y":160},{"s":"b30","x":520,"y":110},
{"s":"b31","x":0,"y":1045},{"s":"b31","x":125,"y":745},{"s":"b31","x":250,"y":445},{"s":"b31","x":377,"y":140},{"s":"b31","x":440,"y":100},
{"s":"b32","x":0,"y":1010},{"s":"b32","x":135,"y":725},{"s":"b32","x":265,"y":455},{"s":"b32","x":400,"y":170},{"s":"b32","x":460,"y":120},
{"s":"b33","x":0,"y":975},{"s":"b33","x":145,"y":700},{"s":"b33","x":290,"y":425},{"s":"b33","x":434,"y":150},{"s":"b33","x":490,"y":110},
{"s":"b34","x":0,"y":940},{"s":"b34","x":125,"y":665},{"s":"b34","x":245,"y":400},{"s":"b34","x":368,"y":130},{"s":"b34","x":430,"y":90},
{"s":"b35","x":0,"y":900},{"s":"b35","x":185,"y":530},{"s":"b35","x":370,"y":160},{"s":"b35","x":430,"y":110},
{"s":"b36","x":0,"y":860},{"s":"b36","x":155,"y":505},{"s":"b36","x":313,"y":140},{"s":"b36","x":370,"y":100},
{"s":"b37","x":0,"y":820},{"s":"b37","x":155,"y":495},{"s":"b37","x":310,"y":170},{"s":"b37","x":370,"y":120},
{"s":"b38","x":0,"y":780},{"s":"b38","x":160,"y":470},{"s":"b38","x":323,"y":150},{"s":"b38","x":380,"y":110},
{"s":"b39","x":0,"y":740},{"s":"b39","x":140,"y":430},{"s":"b39","x":277,"y":130},{"s":"b39","x":340,"y":90},
{"s":"b40","x":0,"y":700},{"s":"b40","x":135,"y":430},{"s":"b40","x":270,"y":160},{"s":"b40","x":330,"y":110},
{"s":"b41","x":0,"y":650},{"s":"b41","x":105,"y":400},{"s":"b41","x":212,"y":140},{"s":"b41","x":270,"y":100},
{"s":"b42","x":0,"y":600},{"s":"b42","x":100,"y":390},{"s":"b42","x":205,"y":170},{"s":"b42","x":260,"y":120},
{"s":"b43","x":0,"y":550},{"s":"b43","x":205,"y":150},{"s":"b43","x":260,"y":110},
{"s":"b44","x":0,"y":490},{"s":"b44","x":164,"y":130},{"s":"b44","x":220,"y":90},
{"s":"b45","x":0,"y":430},{"s":"b45","x":135,"y":160},{"s":"b45","x":190,"y":110},
{"s":"b46","x":0,"y":370},{"s":"b46","x":100,"y":140},{"s":"b46","x":160,"y":100},
{"s":"q47","x":0,"y":1935},{"s":"q47","x":880,"y":150},{"s":"q47","x":940,"y":110},
{"s":"q48","x":0,"y":1865},{"s":"q48","x":820,"y":160},{"s":"q48","x":880,"y":120},
{"s":"q49","x":0,"y":1805},{"s":"q49","x":760,"y":140},{"s":"q49","x":820,"y":100},
{"s":"q50","x":0,"y":1725},{"s":"q50","x":740,"y":150},{"s":"q50","x":800,"y":110},
{"s":"q51","x":0,"y":1665},{"s":"q51","x":700,"y":170},{"s":"q51","x":760,"y":120},
{"s":"q52","x":0,"y":1585},{"s":"q52","x":690,"y":140},{"s":"q52","x":750,"y":100},
{"s":"q53","x":0,"y":1530},{"s":"q53","x":650,"y":160},{"s":"q53","x":710,"y":110},
{"s":"q54","x":0,"y":1475},{"s":"q54","x":600,"y":150},{"s":"q54","x":660,"y":110},
{"s":"q55","x":0,"y":1415},{"s":"q55","x":590,"y":170},{"s":"q55","x":650,"y":120},
{"s":"q56","x":0,"y":1355},{"s":"q56","x":560,"y":140},{"s":"q56","x":620,"y":100},
{"s":"q57","x":0,"y":1295},{"s":"q57","x":530,"y":160},{"s":"q57","x":590,"y":110},
{"s":"q58","x":0,"y":1230},{"s":"q58","x":480,"y":150},{"s":"q58","x":540,"y":110},
{"s":"q59","x":0,"y":1165},{"s":"q59","x":470,"y":170},{"s":"q59","x":530,"y":120},
{"s":"q60","x":0,"y":1100},{"s":"q60","x":450,"y":140},{"s":"q60","x":510,"y":100},
{"s":"q61","x":0,"y":1030},{"s":"q61","x":410,"y":160},{"s":"q61","x":470,"y":110},
{"s":"q62","x":0,"y":960},{"s":"q62","x":390,"y":150},{"s":"q62","x":450,"y":110}
]
},
"hconcat":[
 {"width":452,"height":416,
  "title":{"text":"Final Frequency = 0.9, Selection = 0.005","font":"Liberation Sans","fontSize":23,"fontWeight":"bold","color":"#111111","anchor":"middle","offset":13},
  "layer":[
   {"data":{"name":"bandL"},"mark":{"type":"area","color":"#4DAF4A","clip":true},
    "encoding":{
     "x":{"field":"x","type":"quantitative","title":null,"scale":{"domain":[-200,5200],"nice":false,"zero":false},"axis":{"values":[0,1000,2000,3000,4000,5000],"format":"d"}},
     "y":{"field":"lo","type":"quantitative","title":"TMRCA","scale":{"domain":[95,2053],"nice":false,"zero":false},"axis":{"values":[500,1000,1500,2000],"format":"d"}},
     "y2":{"field":"hi"}}},
   {"data":{"name":"linesL"},"mark":{"type":"line","color":"#4DAF4A","strokeWidth":1,"clip":true},
    "encoding":{
     "x":{"field":"x","type":"quantitative","title":null},
     "y":{"field":"y","type":"quantitative","title":"TMRCA"},
     "detail":{"field":"s","type":"nominal"}}}
  ]},
 {"width":452,"height":416,
  "title":{"text":"Final Frequency = 0.1, Selection = 0.05","font":"Liberation Sans","fontSize":23,"fontWeight":"bold","color":"#111111","anchor":"middle","offset":8},
  "layer":[
   {"data":{"name":"bandR"},"mark":{"type":"area","color":"#377EB8","clip":true},
    "encoding":{
     "x":{"field":"x","type":"quantitative","title":null,"scale":{"domain":[-200,5200],"nice":false,"zero":false},"axis":{"values":[0,1000,2000,3000,4000,5000],"format":"d"}},
     "y":{"field":"lo","type":"quantitative","title":null,"scale":{"domain":[-30,2031],"nice":false,"zero":false},"axis":{"values":[0,500,1000,1500,2000],"format":"d"}},
     "y2":{"field":"hi"}}},
   {"data":{"name":"linesR"},"mark":{"type":"line","color":"#377EB8","strokeWidth":1,"clip":true},
    "encoding":{
     "x":{"field":"x","type":"quantitative","title":null},
     "y":{"field":"y","type":"quantitative","title":null},
     "detail":{"field":"s","type":"nominal"}}}
  ]}
]
}
